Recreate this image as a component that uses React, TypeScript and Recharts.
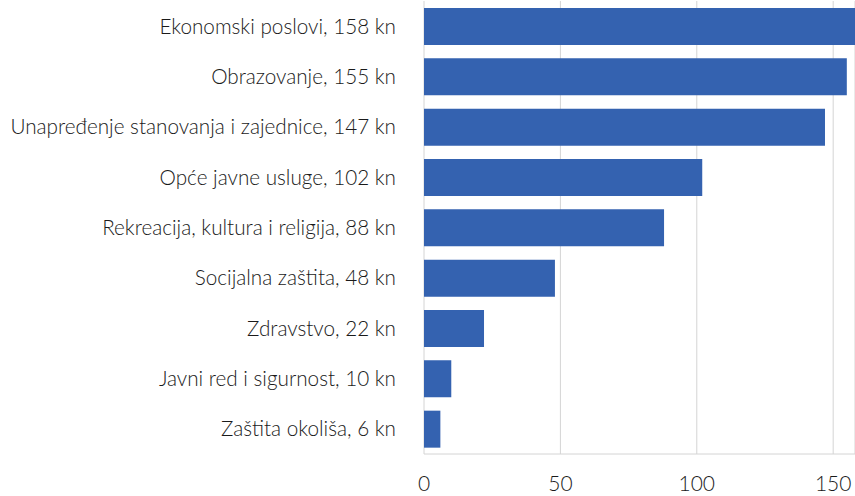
import React from 'react';
import { BarChart, Bar, XAxis, YAxis, CartesianGrid } from 'recharts';

const categories = [
  'Ekonomski poslovi,  158 kn',
  'Obrazovanje,  155 kn',
  'Unapređenje stanovanja i zajednice,  147 kn',
  'Opće javne usluge,  102 kn',
  'Rekreacija, kultura i religija,  88 kn',
  'Socijalna zaštita, 48 kn',
  'Zdravstvo,  22 kn',
  'Javni red i sigurnost,  10 kn',
  'Zaštita okoliša,  6 kn',
];
const values = [158, 155, 147, 102, 88, 48, 22, 10, 6];
const xTicks = [0, 50, 100, 150];

const data = categories.map((name, i) => ({ name, value: values[i] }));

const FONT = 'Lato, "Noto Sans", sans-serif';

const App: React.FC = () => {
  return (
    <div style={{ width: 855, height: 496, background: '#fff' }}>
      <style>{'body{margin:0}'}</style>
      <BarChart
        width={855}
        height={496}
        data={data}
        layout="vertical"
        margin={{ top: 1, right: 0, bottom: 0, left: 0 }}
      >
        <CartesianGrid horizontal={false} stroke="#d4d4d4" />
        <XAxis
          type="number"
          domain={[0, 158]}
          ticks={xTicks}
          allowDataOverflow
          height={42}
          axisLine={{ stroke: '#d4d4d4' }}
          tickLine={false}
          tickSize={0}
          tickMargin={22}
          tick={{ fill: '#1a1a1a', fontSize: 21, fontFamily: FONT, fontWeight: 300 }}
        />
        <YAxis
          type="category"
          dataKey="name"
          width={424}
          axisLine={false}
          tickLine={false}
          tickSize={0}
          tickMargin={28}
          interval={0}
          tick={{ fill: '#1a1a1a', fontSize: 20.7, fontFamily: FONT, fontWeight: 300 }}
        />
        <Bar dataKey="value" fill="#3462b0" barSize={37} isAnimationActive={false} />
      </BarChart>
    </div>
  );
};

export default App;
